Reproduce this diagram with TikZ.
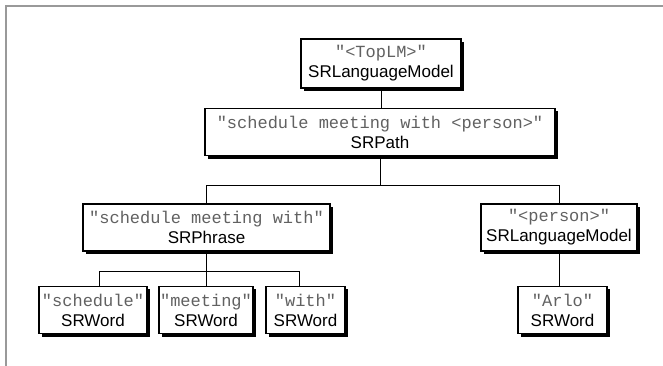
\documentclass[tikz,border=0pt]{standalone}
\usepackage{fontspec}
\setmainfont{Liberation Sans}
\newfontfamily\monof{Liberation Mono}
\usetikzlibrary{shadows}
\definecolor{monogray}{rgb}{0.38,0.38,0.38}
\definecolor{framegray}{rgb}{0.6,0.6,0.6}
\newcommand{\mlab}[1]{{\color{monogray}\monof #1}}
\begin{document}
\begin{tikzpicture}[x=1pt,y=-1pt,
  box/.style={draw=black, fill=white, line width=1.1pt, inner sep=0pt,
    align=center, font=\fontsize{17}{20}\selectfont,
    drop shadow={shadow xshift=3pt, shadow yshift=-3pt, fill=black, opacity=1}},
  conn/.style={draw=black, line width=1pt}]
\useasboundingbox (0,0) rectangle (663,366);
\draw[framegray, line width=1.5pt] (663,6) -- (6,6) -- (6,366);

\node[box, minimum width=160pt, minimum height=49pt] (top) at (381,63.5)
  {\mlab{"<TopLM>"}\\SRLanguageModel};
\node[box, minimum width=350pt, minimum height=47.5pt] (path) at (380,132)
  {\mlab{"schedule meeting with <person>"}\\SRPath};
\node[box, minimum width=247pt, minimum height=47pt] (phrase) at (206.5,227.5)
  {\mlab{"schedule meeting with"}\\SRPhrase};
\node[box, minimum width=156pt, minimum height=47pt] (rlm) at (559,227.5)
  {\mlab{"<person>"}\\SRLanguageModel};
\node[box, minimum width=108pt, minimum height=47.5pt] (sch) at (93,310)
  {\mlab{"schedule"}\\SRWord};
\node[box, minimum width=94pt, minimum height=47.5pt] (meet) at (206,310)
  {\mlab{"meeting"}\\SRWord};
\node[box, minimum width=79pt, minimum height=47.5pt] (with) at (305.5,310)
  {\mlab{"with"}\\SRWord};
\node[box, minimum width=89pt, minimum height=47.5pt] (arlo) at (562.5,310)
  {\mlab{"Arlo"}\\SRWord};

\coordinate (bus1) at (380,185.5);
\coordinate (d1) at (99,271);
\coordinate (d3) at (299,271);

\begin{scope}[on background layer/.style={}]
\draw[conn] (top.south) -- (top.south |- path.north);
\draw[conn] (path.south) -- (path.south |- bus1);
\draw[conn] (phrase.north) |- (rlm.north |- bus1) -- (rlm.north);
\draw[conn] (phrase.south) -- (phrase.south |- meet.north);
\draw[conn] (d1 |- sch.north) -- (d1) -- (d3) -- (d3 |- with.north);
\draw[conn] (rlm.south) -- (rlm.south |- arlo.north);
\end{scope}
\end{tikzpicture}
\end{document}
